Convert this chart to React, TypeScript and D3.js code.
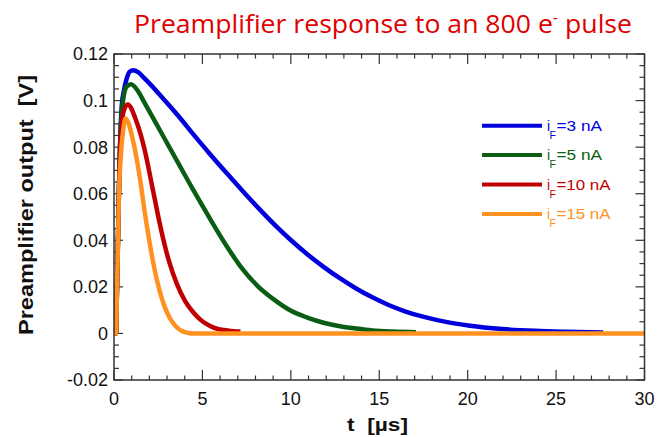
import React from "react";
import * as d3 from "d3";

const tBlue = [0, 0.12, 0.16, 0.21, 0.28, 0.35, 0.44, 0.58, 0.72, 0.9, 1.08, 1.36, 1.73, 2.65, 3.57, 4.49, 5.41, 6.33, 7.25, 8.17, 9.09, 10.01, 10.93, 11.85, 12.77, 13.69, 14.61, 15.53, 16.45, 17.37, 18.29, 20.13, 21.97, 23.81, 25.5, 27.66];
const vBlue = [0, 0, 0.016, 0.035, 0.062, 0.083, 0.098, 0.105, 0.1095, 0.1125, 0.113, 0.1122, 0.1095, 0.102, 0.094, 0.0855, 0.0772, 0.0692, 0.0614, 0.0538, 0.0466, 0.04, 0.034, 0.0286, 0.0237, 0.0193, 0.0155, 0.0122, 0.0095, 0.0074, 0.0057, 0.0033, 0.0019, 0.0011, 0.0007, 0.0004];

const tGreen = [0, 0.12, 0.16, 0.21, 0.28, 0.35, 0.44, 0.53, 0.72, 0.96, 1.36, 1.73, 2.65, 3.57, 4.49, 5.41, 6.33, 7.25, 8.17, 9.09, 10.01, 10.93, 11.85, 12.77, 13.69, 14.61, 15.8, 17.08];
const vGreen = [0, 0, 0.016, 0.035, 0.062, 0.082, 0.095, 0.101, 0.106, 0.107, 0.104, 0.099, 0.0865, 0.074, 0.0615, 0.0495, 0.038, 0.0278, 0.02, 0.0143, 0.0097, 0.0068, 0.0046, 0.0031, 0.0021, 0.0013, 0.0008, 0.0005];

const tRed = [0, 0.12, 0.16, 0.21, 0.28, 0.35, 0.44, 0.53, 0.77, 1.27, 1.73, 2.19, 2.65, 3.11, 3.57, 4.03, 4.49, 4.95, 5.41, 5.87, 6.5, 7.15];
const vRed = [0, 0, 0.016, 0.034, 0.06, 0.08, 0.09, 0.095, 0.0983, 0.091, 0.079, 0.062, 0.045, 0.031, 0.021, 0.0138, 0.009, 0.0055, 0.0033, 0.0019, 0.0012, 0.0008];

const tOrange = [0, 0.12, 0.16, 0.21, 0.28, 0.39, 0.53, 0.66, 0.81, 1.04, 1.27, 1.5, 1.73, 1.96, 2.19, 2.42, 2.65, 2.88, 3.11, 3.34, 3.57, 3.84, 4.21, 4.49, 30];
const vOrange = [0, 0, 0.015, 0.033, 0.059, 0.0766, 0.088, 0.0923, 0.0905, 0.084, 0.0755, 0.065, 0.0525, 0.0415, 0.0315, 0.0232, 0.0165, 0.0112, 0.0073, 0.0045, 0.0025, 0.001, 0.0002, 0, 0];

const seriesLabels = ["=3 nA", "=5 nA", "=10 nA", "=15 nA"];
const seriesColors = ["#0000dd", "#0a5e14", "#c00000", "#ff9120"];

const xTicks = [0, 5, 10, 15, 20, 25, 30];
const yTicks = [-0.02, 0, 0.02, 0.04, 0.06, 0.08, 0.1, 0.12];
const yTickLabels = ["-0.02", "0", "0.02", "0.04", "0.06", "0.08", "0.1", "0.12"];

const W = 658, H = 437;
const L = 114, R = 644.5, T = 54, B = 380;

export default function App() {
  const x = d3.scaleLinear().domain([0, 30]).range([L, R]);
  const y = d3.scaleLinear().domain([-0.02, 0.12]).range([B, T]);
  const line = d3.line<[number, number]>().x(d => x(d[0])).y(d => y(d[1])).curve(d3.curveMonotoneX);
  const series = [
    d3.zip(tBlue, vBlue),
    d3.zip(tGreen, vGreen),
    d3.zip(tRed, vRed),
    d3.zip(tOrange, vOrange),
  ] as [number, number][][];

  const xMinor = d3.range(0, 31, 1);
  const yMinor = d3.range(0, 29).map(i => -0.02 + i * 0.005);
  const axisColor = "#333";
  const font = "'Liberation Sans', Arial, sans-serif";

  return (
    <svg width={W} height={H} style={{ position: "absolute", left: 0, top: 0, background: "#fff" }}>
      <text x={134} y={33} fill="#e00000" fontFamily="'Comic Sans MS', 'Open Sans', sans-serif" fontSize={26} textLength={498} lengthAdjust="spacingAndGlyphs">
        Preamplifier response to an 800 e<tspan dy={-10} fontSize={16}>-</tspan><tspan dy={10}> pulse</tspan>
      </text>

      <g stroke={axisColor} strokeWidth={1.2}>
        {xMinor.map(v => {
          const len = v % 5 === 0 ? 10 : 4.5;
          return (
            <g key={"xt" + v}>
              <line x1={x(v)} x2={x(v)} y1={B} y2={B - len} />
              <line x1={x(v)} x2={x(v)} y1={T} y2={T + len} />
            </g>
          );
        })}
        {yMinor.map((v, i) => {
          const len = i % 4 === 0 ? 9 : 5;
          return (
            <g key={"yt" + i}>
              <line x1={L} x2={L + len} y1={y(v)} y2={y(v)} />
              <line x1={R} x2={R - len} y1={y(v)} y2={y(v)} />
            </g>
          );
        })}
      </g>

      {series.map((d, i) => (
        <path key={i} d={line(d) || ""} fill="none" stroke={seriesColors[i]} strokeWidth={4.5} strokeLinejoin="round" />
      ))}

      <rect x={L} y={T} width={R - L} height={B - T} fill="none" stroke={axisColor} strokeWidth={1.5} />

      <g fontFamily={font} fontSize={18} fill="#111">
        {xTicks.map(v => (
          <text key={"xl" + v} x={x(v)} y={405} textAnchor="middle">{v}</text>
        ))}
        {yTicks.map((v, i) => (
          <text key={"yl" + i} x={108} y={y(v)} dy="0.36em" textAnchor="end">{yTickLabels[i]}</text>
        ))}
      </g>

      <text x={347} y={431} fontFamily={font} fontSize={19} fontWeight="bold" fill="#111" textLength={61} lengthAdjust="spacingAndGlyphs" style={{ whiteSpace: "pre" }}>t  [µs]</text>
      <text transform={`translate(33,205) rotate(-90)`} textAnchor="middle" fontFamily={font} fontSize={20} fontWeight="bold" fill="#111" textLength={260} lengthAdjust="spacingAndGlyphs" style={{ whiteSpace: "pre" }}>Preamplifier output  [V]</text>

      {seriesLabels.map((lab, i) => {
        const ly = 125.7 + i * 29.4;
        const tl = lab.length > 5 ? 54 : 45.5;
        return (
          <g key={"lg" + i} fontFamily={font} fill={seriesColors[i]}>
            <line x1={482} x2={542} y1={ly} y2={ly} stroke={seriesColors[i]} strokeWidth={4} />
            <text x={547} y={ly + 5} fontSize={14}>i</text>
            <text x={549.5} y={ly + 13} fontSize={10.5}>F</text>
            <text x={556.5} y={ly + 5} fontSize={14} textLength={tl} lengthAdjust="spacingAndGlyphs">{lab}</text>
          </g>
        );
      })}
    </svg>
  );
}
